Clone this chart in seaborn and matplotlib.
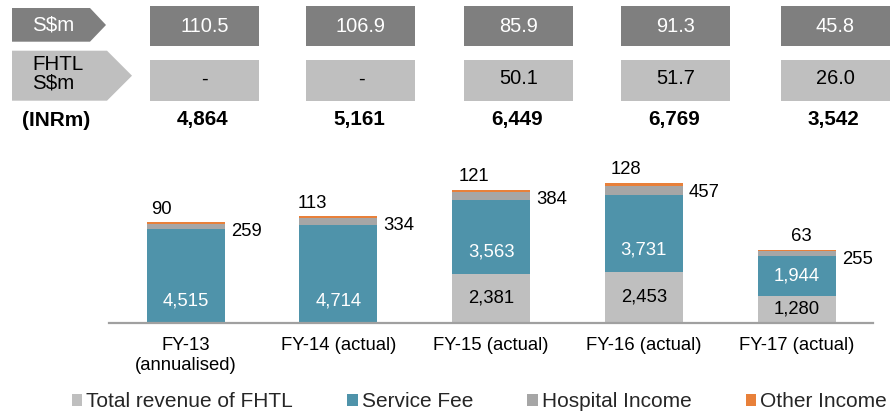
import numpy as np
import pandas as pd
import matplotlib
matplotlib.use("Agg")
import matplotlib.pyplot as plt
from matplotlib.patches import Rectangle, Polygon, Patch
import seaborn as sns

# ── data ──
years = ["FY-13\n(annualised)", "FY-14 (actual)", "FY-15 (actual)",
         "FY-16 (actual)", "FY-17 (actual)"]
fhtl_revenue = [0, 0, 2381, 2453, 1280]
service_fee = [4515, 4714, 3563, 3731, 1944]
hospital_income = [259, 334, 384, 457, 255]
other_income = [90, 113, 121, 128, 63]
sgd_total = ["110.5", "106.9", "85.9", "91.3", "45.8"]
sgd_fhtl = ["-", "-", "50.1", "51.7", "26.0"]
inr_total = [4864, 5161, 6449, 6769, 3542]
series_names = ["Total revenue of FHTL", "Service Fee",
                "Hospital Income", "Other Income"]

# ── style ──
colors = ["#bfbfbf", "#4f93aa", "#a6a6a6", "#e8803a"]
dark_box = "#7f7f7f"
light_box = "#bfbfbf"
sns.set_style("white")
plt.rcParams["font.family"] = ["Liberation Sans", "DejaVu Sans"]

W, H = 895, 413
fig = plt.figure(figsize=(W / 100, H / 100), dpi=100)

# bar axes placed in pixel terms
ax_l, ax_r, ax_b, ax_t = 109.3, 873, 322.7, 149.3
ax = fig.add_axes([ax_l / W, 1 - ax_b / H, (ax_r - ax_l) / W, (ax_b - ax_t) / H])

df = pd.DataFrame({"year": years, "fhtl": fhtl_revenue, "service": service_fee,
                   "hospital": hospital_income, "other": other_income})

bottom = np.zeros(len(years))
for col, c in zip(["fhtl", "service", "hospital", "other"], colors):
    sns.barplot(data=df, x="year", y=col, color=c, saturation=1, width=0.51,
                bottom=bottom.copy(), errorbar=None, linewidth=0, ax=ax)
    bottom += df[col].values

ax.set_ylim(0, 8400)
ax.set_xlim(-0.5, len(years) - 0.5)
ax.set_xlabel("")
ax.set_ylabel("")
ax.set_yticks([])
for s in ["top", "right", "left"]:
    ax.spines[s].set_visible(False)
ax.spines["bottom"].set_color("#a0a0a0")
ax.spines["bottom"].set_linewidth(1.6)
ax.tick_params(axis="x", length=0, pad=10.5, labelsize=13.3, labelcolor="black")

# ── bar labels ──
other_dx = [-24, -26, -17, -18, 5]   # px nudges for the top labels
for i in range(len(years)):
    f, s, h, o = fhtl_revenue[i], service_fee[i], hospital_income[i], other_income[i]
    top = f + s + h + o
    if f > 0:
        ax.text(i, f / 2, f"{f:,}", ha="center", va="center",
                fontsize=13.3, color="black")
    ax.text(i, f + min(s / 2, 1050), f"{s:,}", ha="center", va="center",
            fontsize=13.3, color="white")
    ax.annotate(f"{h:,}", (i + 0.255, top), xytext=(4.5, -6.8),
                textcoords="offset points", ha="left", va="center",
                fontsize=13.3, color="black")
    ax.annotate(f"{o:,}", (i, top), xytext=(other_dx[i] * 0.72, 9.4),
                textcoords="offset points", ha="center", va="center",
                fontsize=13.3, color="black")

# ── header table (pixel overlay) ──
hdr = fig.add_axes([0, 0, 1, 1], facecolor="none")
hdr.set_xlim(0, W)
hdr.set_ylim(H, 0)
hdr.axis("off")

hdr.add_patch(Polygon([(12, 8), (90, 8), (106, 25), (90, 41.7), (12, 41.7)],
                      closed=True, color=dark_box, lw=0))
hdr.add_patch(Polygon([(12, 50.7), (107, 50.7), (132, 75.7), (107, 100.7), (12, 100.7)],
                      closed=True, color=light_box, lw=0))
hdr.text(53, 25, "S$m", ha="center", va="center", fontsize=14.8, color="white")
hdr.text(32, 74, "FHTL\nS$m", ha="left", va="center", fontsize=14.8,
         color="black", linespacing=0.95)
hdr.text(56, 121, "(INRm)", ha="center", va="center", fontsize=15,
         fontweight="bold", color="black")

col_x = [204.5, 361, 519, 676, 835.5]
box_w = 109
for i, cx in enumerate(col_x):
    hdr.add_patch(Rectangle((cx - box_w / 2, 6), box_w, 40, color=dark_box, lw=0))
    hdr.add_patch(Rectangle((cx - box_w / 2, 60), box_w, 40.5, color=light_box, lw=0))
    hdr.text(cx, 26, sgd_total[i], ha="center", va="center",
             fontsize=14.4, color="white")
    hdr.text(cx, 79, sgd_fhtl[i], ha="center", va="center",
             fontsize=14.4, color="black")
    hdr.text(cx - 2, 120, f"{inr_total[i]:,}", ha="center", va="center",
             fontsize=14.9, fontweight="bold", color="black")

# ── legend ──
handles = [Patch(facecolor=c, edgecolor="none") for c in colors]
fig.legend(handles, series_names, loc="center",
           bbox_to_anchor=((67 + 892) / 2 / W, 1 - 401.7 / H),
           ncol=4, frameon=False, fontsize=15, handlelength=0.5,
           handleheight=0.5, handletextpad=0.2, columnspacing=2.6,
           borderpad=0, borderaxespad=0)

fig.savefig("out.png", dpi=100)
plt.close(fig)
